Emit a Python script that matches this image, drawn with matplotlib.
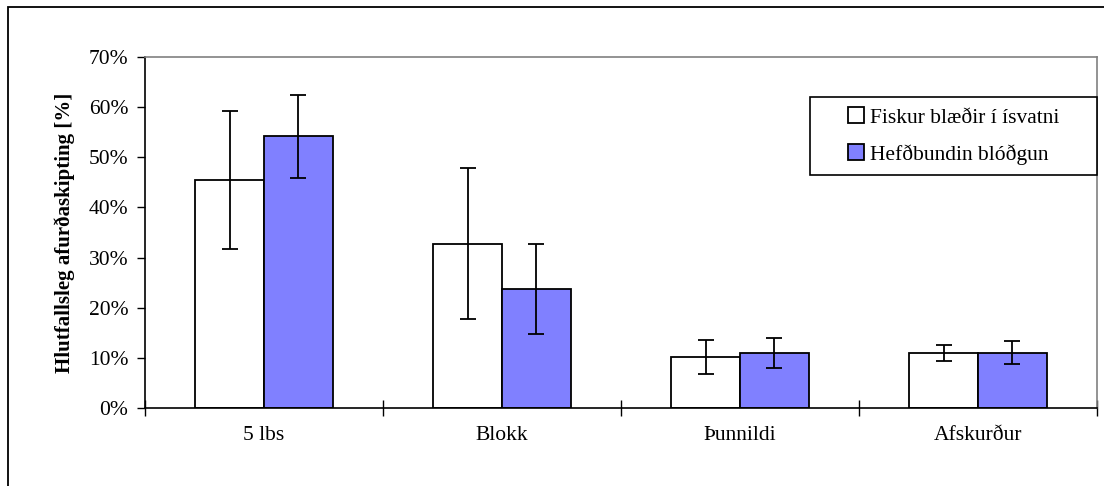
import matplotlib.pyplot as plt
import matplotlib.patches as mpatches
import numpy as np

plt.rcParams['font.family'] = ['Liberation Serif', 'DejaVu Serif']

# Data (percent)
categories = ["5 lbs", "Blokk", "Þunnildi", "Afskurður"]
series_names = ["Fiskur blæðir í ísvatni", "Hefðbundin blóðgun"]
isvatn = [45.5, 32.8, 10.2, 11.0]
isvatn_err = [13.8, 15.1, 3.45, 1.6]
hefdb = [54.2, 23.7, 11.0, 11.0]
hefdb_err = [8.3, 9.0, 2.95, 2.3]

fig = plt.figure(figsize=(11.04, 4.86), dpi=100)
ax = fig.add_axes([145 / 1104, 1 - 408 / 486, (1097 - 145) / 1104, (408 - 57) / 486])

x = np.arange(len(categories)) + 0.5
w = 0.288
err_kw = dict(ecolor="black", elinewidth=1.3, capsize=5.5, capthick=1.3)
ax.bar(x - w / 2, isvatn, w, yerr=isvatn_err, color="white", edgecolor="black",
       linewidth=1.3, label=series_names[0], error_kw=err_kw)
ax.bar(x + w / 2, hefdb, w, yerr=hefdb_err, color="#8080FF", edgecolor="black",
       linewidth=1.3, label=series_names[1], error_kw=err_kw)

ax.set_xlim(0, len(categories))
ax.set_ylim(0, 70)
ax.set_yticks(range(0, 71, 10))
ax.set_yticklabels([f"{v}%" for v in range(0, 71, 10)], fontsize=15.5)
ax.tick_params(axis="y", direction="out", length=6, width=1, pad=6)

# category boundaries as ticks, names centered between
ax.set_xticks(range(len(categories) + 1))
ax.set_xticklabels([])
ax.tick_params(axis="x", which="major", direction="inout", length=12, width=1)
ax.set_xticks(x, minor=True)
ax.set_xticklabels(categories, minor=True, fontsize=15.5)
ax.tick_params(axis="x", which="minor", length=0, pad=13)

ax.set_ylabel("Hlutfallsleg afurðaskipting [%]", fontsize=15, fontweight="bold", labelpad=10)

for s in ["left", "bottom"]:
    ax.spines[s].set_color("black")
    ax.spines[s].set_linewidth(1.2)
for s in ["top", "right"]:
    ax.spines[s].set_color("#808080")
    ax.spines[s].set_linewidth(1.2)

# legend entries centered in a fixed frame
lx0, lx1, ly0, ly1 = 810 / 1104, 1097 / 1104, 1 - 175 / 486, 1 - 97 / 486
frame = mpatches.Rectangle((lx0, ly0), lx1 - lx0, ly1 - ly0,
                           transform=fig.transFigure, fill=True,
                           facecolor="white", edgecolor="black",
                           linewidth=1.2, zorder=4, clip_on=False)
ax.add_patch(frame)
leg = ax.legend(loc="center", bbox_to_anchor=((lx0 + lx1) / 2, (ly0 + ly1) / 2),
                bbox_transform=fig.transFigure, fontsize=15.5, frameon=False,
                handlelength=0.75, handleheight=0.75, handletextpad=0.3,
                labelspacing=0.75, borderpad=0, borderaxespad=0)
leg.set_zorder(5)

# outer chart border (cut off at right and bottom)
fig.patches.append(mpatches.Rectangle((8 / 1104, -0.1), 1.2, 1 - 7 / 486 + 0.1,
                                      transform=fig.transFigure, fill=False,
                                      edgecolor="black", linewidth=1.3))

plt.savefig("out.png", dpi=100)
